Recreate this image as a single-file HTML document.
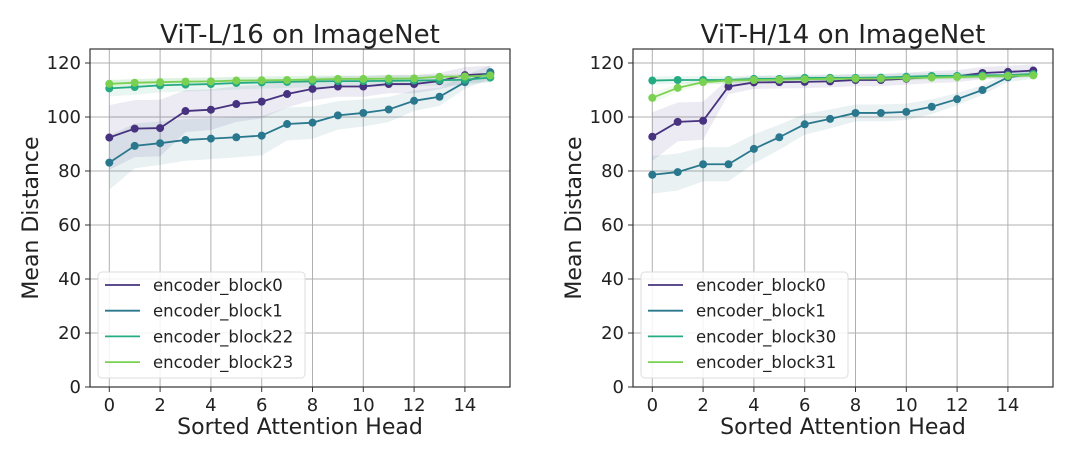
<!DOCTYPE html>
<html><head><meta charset="utf-8"><style>
body{margin:0;background:#fff;}
svg text{font-family:"DejaVu Sans","Liberation Sans",sans-serif;fill:#222;}
</style></head><body>
<svg id="c" width="1080" height="451"></svg>
<script>
const heads=[0,1,2,3,4,5,6,7,8,9,10,11,12,13,14,15];
const yTicks=[0,20,40,60,80,100,120];
const xTicks=[0,2,4,6,8,10,12,14];
// Left panel: ViT-L/16
const L_names=["encoder_block0","encoder_block1","encoder_block22","encoder_block23"];
const L_b0=[92.4,95.7,95.9,102.2,102.7,104.8,105.7,108.5,110.4,111.3,111.3,112.2,112.2,113.3,115.5,116];
const L_b1=[83.1,89.3,90.3,91.5,92,92.5,93.1,97.4,97.9,100.6,101.5,102.8,106,107.5,112.9,116.6];
const L_b22=[110.6,111.1,111.7,112,112.2,112.6,112.8,113,113.2,113.3,113.3,113.4,113.5,113.6,113.8,114.6];
const L_b23=[112.3,112.7,112.9,113.1,113.2,113.5,113.6,113.7,113.9,114.1,114.1,114.2,114.3,114.9,115,115.4];
const L_sd=[12,10,3,1.5];
// Right panel: ViT-H/14
const R_names=["encoder_block0","encoder_block1","encoder_block30","encoder_block31"];
const R_b0=[92.7,98.2,98.6,111.3,112.8,112.9,113,113.2,113.7,113.7,114.2,114.8,115.1,116.3,116.7,117.2];
const R_b1=[78.6,79.6,82.5,82.5,88.2,92.5,97.3,99.3,101.5,101.5,101.9,103.8,106.6,110,114.7,115.9];
const R_b30=[113.5,113.7,113.7,113.7,114.1,114.1,114.5,114.5,114.5,114.6,114.9,115.2,115.2,115.4,115.5,115.9];
const R_b31=[107.1,110.8,112.9,113.5,113.7,113.8,114,114.1,114.2,114.2,114.4,114.6,114.8,115,115.2,115.4];
const R_sd=[9,7,1.5,2];
const colors=["#46327e","#2a788e","#25ab82","#7ad151"];
const svg=document.getElementById('c');
const NS="http://www.w3.org/2000/svg";
function mk(t,a,p){const e=document.createElementNS(NS,t);for(const k in a)e.setAttribute(k,a[k]);(p||svg).appendChild(e);return e;}
function panel(ox,title,names,series,sds,key){
  const L=ox,R=ox+420,T=49,B=387;
  const xs=v=>L+19.3+(v)*25.4;
  const ys=v=>B-v*2.7;
  const g=mk('g',{});
  
  
  xTicks.forEach(t=>{const l=mk('line',{x1:xs(t),x2:xs(t),y1:T,y2:B,stroke:'#b0b0b0','stroke-width':1},g);
    
    const tx=mk('text',{x:xs(t),y:B+24,'text-anchor':'middle','font-size':18},g);tx.textContent=t;
    
    mk('line',{x1:xs(t),x2:xs(t),y1:B,y2:B+5,stroke:'#333'},g);});
  yTicks.forEach(t=>{const l=mk('line',{x1:L,x2:R,y1:ys(t),y2:ys(t),stroke:'#b0b0b0','stroke-width':1},g);
    
    const tx=mk('text',{x:L-9,y:ys(t)+6,'text-anchor':'end','font-size':18},g);tx.textContent=t;
    
    mk('line',{x1:L-5,x2:L,y1:ys(t),y2:ys(t),stroke:'#333'},g);});
  series.forEach((s,i)=>{
    const w=(v)=>sds[i]*Math.max(0.25,(120-v)/(120-s[0]));
    const up=s.map((v,j)=>xs(heads[j])+','+ys(Math.min(v+w(v),125))).join(' ');
    const dn=s.map((v,j)=>xs(heads[j])+','+ys(v-w(v))).reverse().join(' ');
    const b=mk('polygon',{points:up+' '+dn,fill:colors[i],'fill-opacity':0.1},g);
    
  });
  series.forEach((s,i)=>{
    const pl=mk('polyline',{points:s.map((v,j)=>xs(heads[j])+','+ys(v)).join(' '),fill:'none',stroke:colors[i],'stroke-width':1.8},g);
    
    s.forEach((v,j)=>{const c=mk('circle',{cx:xs(heads[j]),cy:ys(v),r:4,fill:colors[i]},g);
      });
  });
  const f=mk('rect',{x:L,y:T,width:R-L,height:B-T,fill:'none',stroke:'#333','stroke-width':1.2},g);
  
  const tt=mk('text',{x:(L+R)/2,y:43,'text-anchor':'middle','font-size':26},g);tt.textContent=title;
  
  const xl=mk('text',{x:(L+R)/2,y:434,'text-anchor':'middle','font-size':22},g);xl.textContent='Sorted Attention Head';
  
  const yl=mk('text',{x:0,y:0,'text-anchor':'middle','font-size':22,transform:`translate(${L-52},${(T+B)/2}) rotate(-90)`},g);yl.textContent='Mean Distance';
  
  const lg=mk('g',{},g);
  
  mk('rect',{x:L+8,y:272,width:207,height:106,rx:4,fill:'#fff','fill-opacity':0.85,stroke:'#ddd'},lg);
  names.forEach((n,i)=>{const y=285+i*25.7;
    mk('line',{x1:L+15,x2:L+50,y1:y,y2:y,stroke:colors[i],'stroke-width':1.8},lg);
    const t=mk('text',{x:L+63,y:y+6,'font-size':16.5},lg);t.textContent=n;
    });
}
panel(90,'ViT-L/16 on ImageNet',L_names,[L_b0,L_b1,L_b22,L_b23],L_sd,'left');
panel(633,'ViT-H/14 on ImageNet',R_names,[R_b0,R_b1,R_b30,R_b31],R_sd,'right');
</script>
</body></html>
